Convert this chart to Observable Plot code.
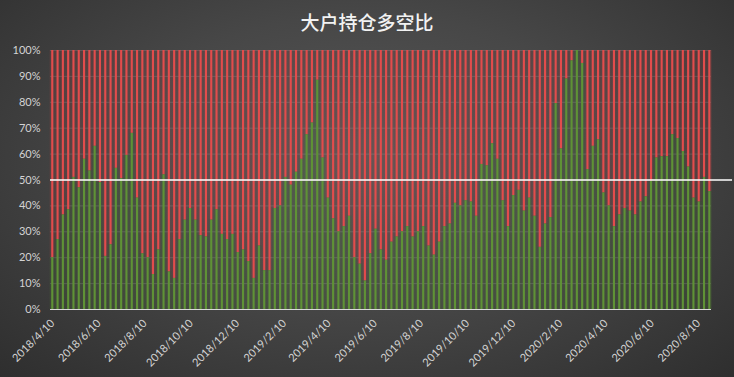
<!DOCTYPE html>
<html><head><meta charset="utf-8">
<script src="https://cdn.jsdelivr.net/npm/d3@7"></script>
<script src="https://cdn.jsdelivr.net/npm/@observablehq/plot@0.6"></script>
<style>
html,body{margin:0;padding:0;background:#2b2b2b;}
#wrap{width:734px;height:377px;position:relative;overflow:hidden;background:radial-gradient(ellipse 75% 85% at 50% 42%, #575757 0%, #474747 45%, #2c2c2c 100%);}
#title{position:absolute;left:0;top:0;width:734px;height:40px;line-height:44px;text-align:center;color:#f2f2f2;font-family:"Noto Sans CJK SC",sans-serif;font-size:19px;font-weight:500;}
#chart{position:absolute;left:0;top:40px;}
</style></head><body>
<div id="wrap"><div id="title">大户持仓多空比</div><div id="chart"></div></div>
<script>
// weekly observations starting 2018/4/10
const startDate = "2018-04-10";
// long share (%) per week — green part; the remainder to 100% is the short share (red)
const longPct = [
  20, 27, 36.5, 38.5, 51, 47, 58, 53.5, 63, 49,
  20.5, 25, 54.5, 50.5, 59.5, 68, 43, 21.5, 20, 13.5,
  23, 52, 14.5, 12, 27, 34.5, 39, 34.5, 28.5, 28,
  34.5, 38.5, 29, 27, 29, 22, 23, 18.5, 12, 24.5,
  15, 15, 39, 40, 51, 48, 53, 58, 67.5, 72,
  88.5, 58.5, 43, 35, 30, 32, 36, 20, 17.5, 11,
  21.5, 31, 23, 19, 26, 28, 30, 32, 28, 30,
  32, 24.5, 21, 26, 32, 33, 41, 40, 42, 41.5,
  36, 56, 55.5, 64, 58, 42, 32, 44, 46, 38,
  43, 36, 24, 33, 35.5, 79.5, 62, 89, 96, 100,
  95, 54, 63, 65.5, 45, 40, 32, 36.5, 39, 38,
  36.5, 41.5, 43.5, 49.5, 58.5, 59, 59, 67.5, 66, 61,
  55, 43, 41.5, 51, 45.5
];
const xTickLabels = ["2018/4/10","2018/6/10","2018/8/10","2018/10/10","2018/12/10","2019/2/10","2019/4/10","2019/6/10","2019/8/10","2019/10/10","2019/12/10","2020/2/10","2020/4/10","2020/6/10","2020/8/10"];
const yTicks = [0,10,20,30,40,50,60,70,80,90,100];
const midLine = 50;

const parseLabel = s => { const [y,m,d] = s.split("/").map(Number); return new Date(Date.UTC(y, m-1, d)); };
const start = new Date(startDate + "T00:00:00Z");
const data = longPct.map((v, i) => ({date: d3.utcDay.offset(start, 7*i), long: v}));
const tickDates = xTickLabels.map(parseLabel);
const labelOf = new Map(tickDates.map((d,i) => [+d, xTickLabels[i]]));
const H = 3600e3;
const off = (d, days) => new Date(+d + days*24*H);

const green = "#5f9236", red = "#e24c4c";
const chart = Plot.plot({
  width: 734, height: 337,
  marginTop: 10, marginBottom: 68, marginLeft: 50, marginRight: 23,
  style: {background: "transparent", color: "#d4d4d4", fontFamily: "Lato, 'Open Sans', sans-serif", fontSize: "11px"},
  x: {type: "utc", domain: [off(start, -3), off(data[data.length-1].date, 2.2)]},
  y: {domain: [0, 100]},
  marks: [
    Plot.rectY(data, {x1: d => off(d.date, -3.5), x2: d => off(d.date, 3.5), y1: d => d.long, y2: 100, fill: red, fillOpacity: 0.13}),
    Plot.rectY(data, {x1: d => off(d.date, -3.5), x2: d => off(d.date, 3.5), y1: 0, y2: d => d.long, fill: green, fillOpacity: 0.13}),
    Plot.gridY(yTicks, {stroke: "#ffffff", strokeOpacity: 0.13}),
    Plot.rectY(data, {x1: d => off(d.date, -1.4), x2: d => off(d.date, 1.4), y1: d => d.long, y2: 100, fill: red}),
    Plot.rectY(data, {x1: d => off(d.date, -1.4), x2: d => off(d.date, 1.4), y1: 0, y2: d => d.long, fill: green}),
    Plot.ruleY([midLine], {stroke: "#ffffff", strokeWidth: 1.3, x1: off(start, -3), x2: off(data[data.length-1].date, 30)}),
    Plot.ruleY([0], {stroke: "#d9d9d9", strokeWidth: 1}),
    Plot.axisY(yTicks, {tickSize: 0, tickPadding: 10, tickFormat: d => d + "%", label: null}),
    Plot.axisX(tickDates, {tickSize: 0, tickPadding: 12, tickRotate: -45, tickFormat: d => labelOf.get(+d), label: null})
  ]
});
document.getElementById("chart").appendChild(chart);
</script>
</body></html>
